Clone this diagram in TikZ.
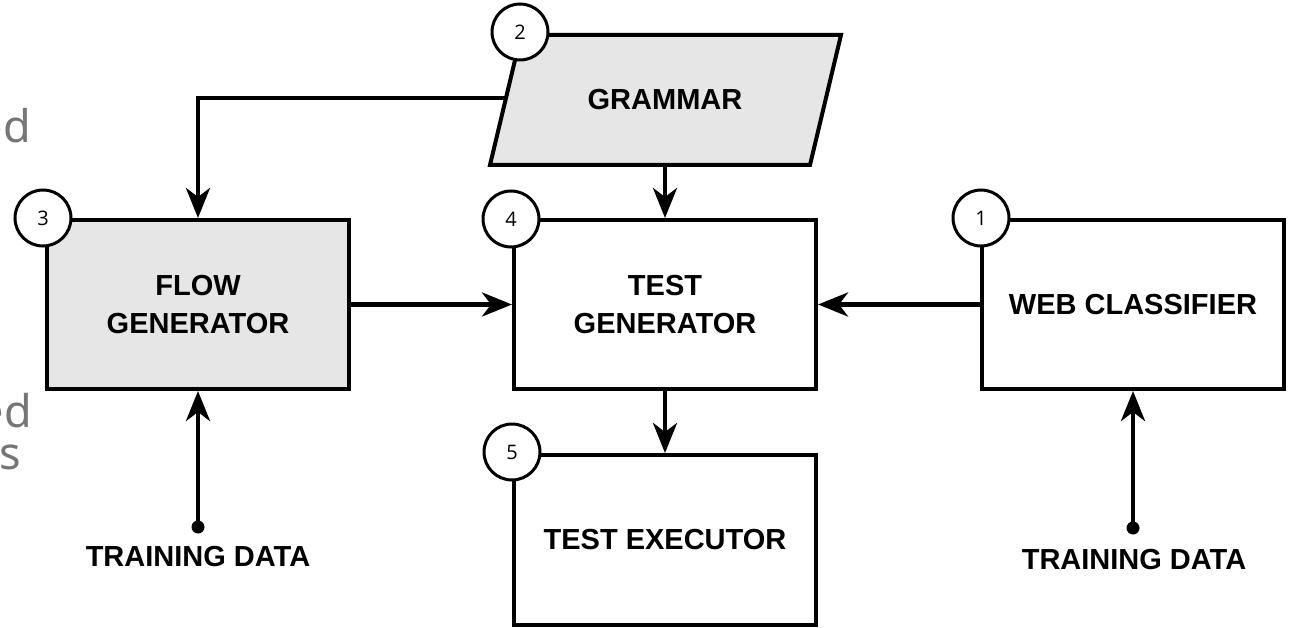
\documentclass[tikz,border=0pt]{standalone}
\usepackage{fontspec}
\setmainfont{Liberation Sans}
\newfontfamily\numfont{Open Sans}
\newfontfamily\notefont{Noto Sans}
\usetikzlibrary{arrows.meta}
\definecolor{boxgray}{RGB}{230,230,230}
\definecolor{notegray}{RGB}{117,117,117}

\begin{document}
\begin{tikzpicture}[x=1pt,y=-1pt,
  box/.style={draw, line width=4pt, minimum width=302pt, minimum height=169pt,
    align=center, inner sep=0pt, font=\fontsize{29}{38}\selectfont\bfseries},
  greybox/.style={box, fill=boxgray},
  badge/.style={draw, circle, line width=3pt, fill=white, minimum size=56pt,
    inner sep=0pt, font=\numfont\fontsize{20}{20}\selectfont},
  link/.style={line width=4.5pt, -{Stealth[length=30pt,width=24pt,inset=9pt]}},
  datatext/.style={font=\fontsize{29}{29}\selectfont\bfseries, inner sep=0pt},
  sidenote/.style={text=notegray, font=\notefont\fontsize{45}{45}\selectfont,
    anchor=base east, inner sep=0pt}
]
\useasboundingbox (0,0) rectangle (1292,628);

% text fragments running in from the left margin
\node[sidenote] (n1) at (31,143) {ed};
\node[sidenote] (n2) at (32,427) {ed};
\node[sidenote] (n3) at (21,469) {s};

% grammar parallelogram
\coordinate (g-tl) at (521,35);
\coordinate (g-tr) at (841,35);
\coordinate (g-br) at (810,165);
\coordinate (g-bl) at (490,165);
\draw[line width=4pt, fill=boxgray] (g-tl) -- (g-tr) -- (g-br) -- (g-bl) -- cycle;
\node[datatext] (grammar) at (665,100) {GRAMMAR};
\coordinate (g-left) at (505.7,98);
\coordinate (g-bot) at (665,165);

% main blocks
\node[greybox] (flow) at (198,304.5) {FLOW\\GENERATOR};
\node[box] (testgen) at (665,304.5) {TEST\\GENERATOR};
\node[box] (web) at (1133,304.5) {WEB CLASSIFIER};
\node[box, minimum height=170pt] (exec) at (665,540) {TEST EXECUTOR};

% connectors
\draw[link] (g-left) -| (flow.north);
\draw[link] (g-bot) -- (testgen.north);
\draw[link] (flow.east) -- (testgen.west);
\draw[link] (web.west) -- (testgen.east);
\draw[link] (testgen.south) -- (exec.north);

% training data inputs
\coordinate (td1) at (198,527);
\coordinate (td2) at (1133,528);
\fill (td1) circle (6.5);
\fill (td2) circle (6.5);
\draw[link] (td1) -- (flow.south);
\draw[link] (td2) -- (web.south);
\node[datatext] (tdl) at (198,557) {TRAINING DATA};
\node[datatext] (tdr) at (1134,560) {TRAINING DATA};

% numbered badges
\node[badge] (b1) at (981,218) {1};
\node[badge] (b2) at (520,32) {2};
\node[badge] (b3) at (43,218) {3};
\node[badge] (b4) at (511,219) {4};
\node[badge] (b5) at (512,452) {5};
\end{tikzpicture}
\end{document}
